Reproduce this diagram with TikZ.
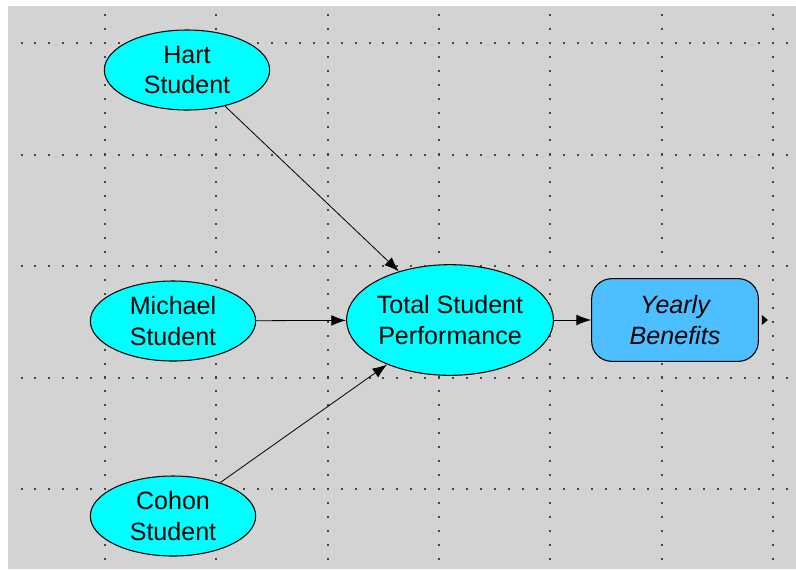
\documentclass[tikz,border=0pt]{standalone}
\usepackage{fontspec}
\setmainfont{Liberation Sans}
\usetikzlibrary{arrows.meta,shapes.geometric}
\definecolor{panelgray}{RGB}{211,211,211}
\definecolor{nodecyan}{RGB}{0,255,255}
\definecolor{benefitblue}{RGB}{77,190,255}
\definecolor{griddot}{RGB}{70,70,70}

\begin{document}
\begin{tikzpicture}[x=0.75pt, y=-0.75pt,
    var/.style={draw, line width=0.8pt, ellipse, fill=nodecyan, inner sep=0pt, minimum width=124pt, minimum height=60pt, align=center, font=\fontsize{18.8}{23.2}\selectfont},
    total/.style={var, minimum width=153pt, minimum height=83pt},
    objective/.style={draw, line width=0.8pt, rounded corners=15pt, fill=benefitblue, minimum width=125pt, minimum height=62pt, align=center, font=\fontsize{18.8}{23.2}\selectfont\itshape},
    arrow/.style={-{Latex[length=11pt, width=8pt]}, line width=0.6pt}
]
\useasboundingbox (0,0) rectangle (796,569);
\fill[white] (0,0) rectangle (796,569);
\fill[panelgray] (8,6) rectangle (796,569);

% Dotted grid
\foreach \y in {43,154.5,266,377.5,489}
  \foreach \i in {0,...,55}
    \fill[griddot] ({21.5+13.92*\i-1},\y-1) rectangle ++(2,2);
\foreach \x in {105,216.3,327.6,438.9,550.2,661.5,772.8}
  \foreach \j in {0,...,39}
    \fill[griddot] (\x-1,{15+13.94*\j-1}) rectangle ++(2,2);

% Students
\node[var] (hart) at (187,70) {Hart\\Student};
\node[var] (michael) at (173,321) {Michael\\Student};
\node[var] (cohon) at (173,516) {Cohon\\Student};

% Performance
\node[total] (perf) at (450,320) {Total Student\\Performance};

% Benefits
\node[objective] (benefits) at (675,320) {Yearly\\Benefits};
\fill (benefits.east) ++(3,-5) -- ++(6,5) -- ++(-6,5) -- cycle;

% Arrows
\draw[arrow] (hart) -- (perf);
\draw[arrow] (michael) -- (perf);
\draw[arrow] (cohon) -- (perf);
\draw[arrow] (perf) -- (benefits);

\end{tikzpicture}
\end{document}
